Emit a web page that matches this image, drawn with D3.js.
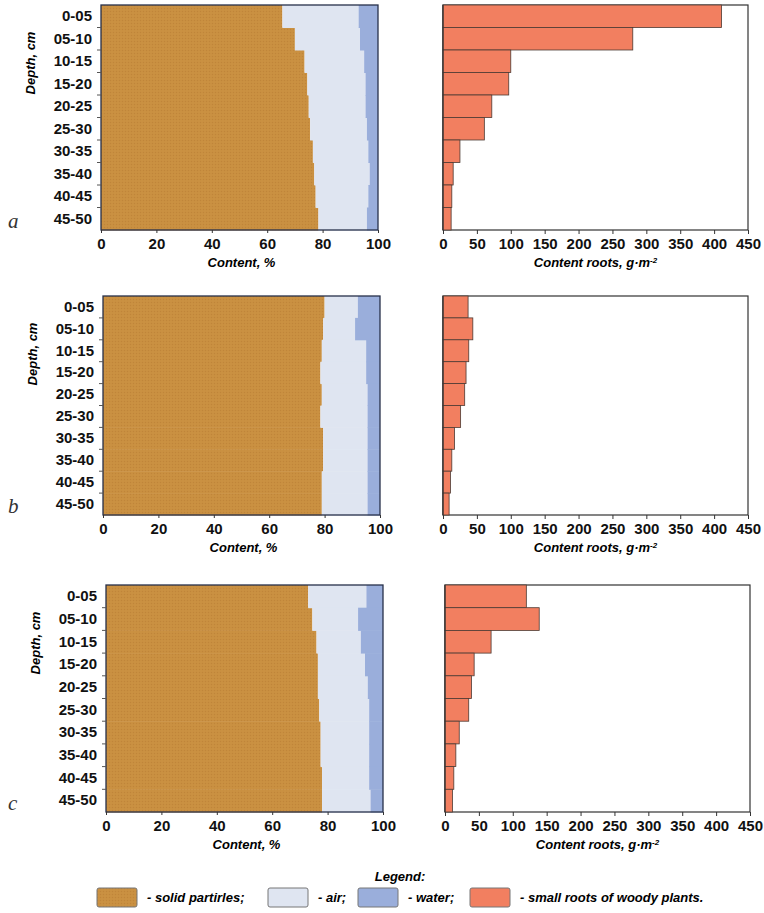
<!DOCTYPE html>
<html>
<head>
<meta charset="utf-8">
<script src="https://cdn.jsdelivr.net/npm/d3@7"></script>
<style>
  body { margin: 0; background: #fff; }
  .tick text { font-family: "Liberation Sans", Arial, sans-serif; font-weight: bold; }
  .axisTitle { font-family: "Liberation Sans Narrow", "Liberation Sans", Arial, sans-serif; font-weight: bold; font-style: italic; }
</style>
</head>
<body>
<div id="chart"></div>
<script>
var svgWidth = 764;
var svgHeight = 913;

// depth layers
var depths = ["0-05", "05-10", "10-15", "15-20", "20-25", "25-30", "30-35", "35-40", "40-45", "45-50"];

// soil composition, % (solid + air + water = 100)
var solidA = [65.5, 70, 73.5, 74.5, 75, 75.5, 76.5, 77, 77.5, 78.5];
var airA   = [27.5, 23.5, 21.5, 21, 20.5, 20.5, 20, 20, 19, 17.5];
var waterA = [7, 6.5, 5, 4.5, 4.5, 4, 3.5, 3, 3.5, 4];

var solidB = [80, 79.5, 79, 78.5, 79, 78.5, 79.5, 79.5, 79, 79];
var airB   = [12, 11.5, 16, 16.5, 16.5, 17, 16, 16, 16.5, 16.5];
var waterB = [8, 9, 5, 5, 4.5, 4.5, 4.5, 4.5, 4.5, 4.5];

var solidC = [73, 74.5, 76, 76.5, 76.5, 77, 77.5, 77.5, 78, 78];
var airC   = [21, 16.5, 16, 17, 18, 18, 17.5, 17.5, 17, 17.5];
var waterC = [6, 9, 8, 6.5, 5.5, 5, 5, 5, 5, 4.5];

// small roots of woody plants, g/m2
var rootsA = [411, 280, 100, 97, 72, 61, 25, 15, 13, 12];
var rootsB = [37, 44, 38, 34, 32, 26, 17, 13, 11, 9];
var rootsC = [120, 139, 68, 43, 39, 35, 21, 16, 13, 11];

var contentTicks = [0, 20, 40, 60, 80, 100];
var rootTicks = [0, 50, 100, 150, 200, 250, 300, 350, 400, 450];
var panelLetters = ["a", "b", "c"];

var legendLabels = ["solid partirles;", "air;", "water;", "small roots of woody plants."];

var colors = { solid: "#c98f40", air: "#dfe5f1", water: "#9aaedb", roots: "#f27f60" };

var svg = d3.select("#chart")
  .append("svg")
  .attr("width", svgWidth)
  .attr("height", svgHeight);

// dotted texture of the solid particles
var defs = svg.append("defs");
var pat = defs.append("pattern")
  .attr("id", "solidPat")
  .attr("patternUnits", "userSpaceOnUse")
  .attr("width", 3).attr("height", 3);
pat.append("rect").attr("width", 3).attr("height", 3).attr("fill", colors.solid);
pat.append("rect").attr("width", 1).attr("height", 1).attr("fill", "#bf853a");
pat.append("rect").attr("x", 1.5).attr("y", 1.5).attr("width", 1).attr("height", 1).attr("fill", "#d09848");

// layout of the three rows of panels
var panels = [
  { top: 5,   h: 225, lx: 101, rx: 443, solid: solidA, air: airA, water: waterA, roots: rootsA },
  { top: 296, h: 219, lx: 103, rx: 443, solid: solidB, air: airB, water: waterB, roots: rootsB },
  { top: 585, h: 227, lx: 106, rx: 445, solid: solidC, air: airC, water: waterC, roots: rootsC }
];
var lw = 277, rw = 305;

panels.forEach(function (p, pi) {
  var rows = depths.map(function (d, i) {
    return { depth: d, solid: p.solid[i], air: p.air[i], water: p.water[i], roots: p.roots[i] };
  });

  var yScale = d3.scaleBand().domain(depths).range([0, p.h]).padding(0);

  // ---- left: soil composition ----
  var g = svg.append("g").attr("transform", `translate(${p.lx}, ${p.top})`);
  var xLeft = d3.scaleLinear().domain([0, 100]).range([0, lw]);

  var series = d3.stack().keys(["solid", "air", "water"])(rows);
  g.selectAll("g.layer")
    .data(series)
    .enter()
    .append("g")
    .attr("fill", d => d.key == "solid" ? "url(#solidPat)" : colors[d.key])
    .selectAll("rect")
    .data(d => d)
    .enter()
    .append("rect")
    .attr("x", d => xLeft(d[0]))
    .attr("y", d => yScale(d.data.depth))
    .attr("width", d => xLeft(d[1]) - xLeft(d[0]))
    .attr("height", yScale.bandwidth() + 0.5);

  g.append("rect")
    .attr("width", lw).attr("height", p.h)
    .attr("fill", "none").attr("stroke", "#27304a").attr("stroke-width", 1.3);

  // depth axis
  var leftAxis = d3.axisLeft(yScale).tickSize(0).tickPadding(9);
  var ya = g.append("g").call(leftAxis);
  ya.select(".domain").remove();
  ya.selectAll("text").attr("font-size", 15).attr("fill", "#111");
  g.selectAll("line.rowtick")
    .data(depths.slice(1))
    .enter()
    .append("line")
    .attr("x1", -4).attr("x2", 0)
    .attr("y1", d => yScale(d)).attr("y2", d => yScale(d))
    .attr("stroke", "#555");

  var bottomLeft = d3.axisBottom(xLeft).tickValues(contentTicks).tickSize(3).tickPadding(5);
  var xa = g.append("g").attr("transform", `translate(0, ${p.h})`).call(bottomLeft);
  xa.select(".domain").remove();
  xa.selectAll("line").attr("stroke", "#333");
  xa.selectAll("text").attr("font-size", 15).attr("fill", "#111");

  g.append("text")
    .attr("class", "axisTitle")
    .attr("x", lw / 2 + 2).attr("y", p.h + 37)
    .attr("text-anchor", "middle")
    .attr("font-size", 13)
    .text("Content, %");

  g.append("text")
    .attr("class", "axisTitle")
    .attr("transform", `translate(${-66}, ${58}) rotate(-90)`)
    .attr("text-anchor", "middle")
    .attr("font-size", 13)
    .text("Depth, cm");

  svg.append("text")
    .attr("x", 8).attr("y", p.top + p.h - 2)
    .attr("font-family", "Liberation Serif, serif")
    .attr("font-style", "italic")
    .attr("font-size", 21)
    .attr("fill", "#333")
    .text(panelLetters[pi]);

  // ---- right: roots ----
  var gr = svg.append("g").attr("transform", `translate(${p.rx}, ${p.top})`);
  var xRight = d3.scaleLinear().domain([0, 450]).range([0, rw]);

  gr.append("rect")
    .attr("width", rw).attr("height", p.h)
    .attr("fill", "#fff").attr("stroke", "#333").attr("stroke-width", 1.2);

  gr.selectAll("rect.bar")
    .data(rows)
    .enter()
    .append("rect")
    .attr("class", "bar")
    .attr("x", 0)
    .attr("y", d => yScale(d.depth))
    .attr("width", d => xRight(d.roots))
    .attr("height", yScale.bandwidth())
    .attr("fill", colors.roots)
    .attr("stroke", "#4d3a33")
    .attr("stroke-width", 0.8);

  gr.append("line")
    .attr("x1", 0).attr("x2", 0).attr("y1", 0).attr("y2", p.h)
    .attr("stroke", "#333").attr("stroke-width", 1.2);

  var bottomRight = d3.axisBottom(xRight).tickValues(rootTicks).tickSize(4).tickPadding(4);
  var xr = gr.append("g").attr("transform", `translate(0, ${p.h})`).call(bottomRight);
  xr.select(".domain").remove();
  xr.selectAll("line").attr("stroke", "#333");
  xr.selectAll("text").attr("font-size", 15).attr("fill", "#111");

  var t = gr.append("text")
    .attr("class", "axisTitle")
    .attr("x", rw / 2).attr("y", p.h + 37)
    .attr("text-anchor", "middle")
    .attr("font-size", 13);
  t.append("tspan").text("Content roots, g·m");
  t.append("tspan").attr("dy", -4).attr("font-size", 8).text("-2");
});

// ---- legend ----
svg.append("text")
  .attr("class", "axisTitle")
  .attr("x", 400).attr("y", 881)
  .attr("text-anchor", "middle")
  .attr("font-size", 13)
  .text("Legend:");

var legendKeys = ["solid", "air", "water", "roots"];
var legendX = [97, 268, 358, 470];
var lg = svg.selectAll("g.legend")
  .data(legendKeys)
  .enter()
  .append("g")
  .attr("transform", (d, i) => `translate(${legendX[i]}, 888)`);

lg.append("rect")
  .attr("width", 40).attr("height", 19)
  .attr("rx", 2)
  .attr("fill", d => d == "solid" ? "url(#solidPat)" : colors[d])
  .attr("stroke", "#777").attr("stroke-width", 1);

lg.append("text")
  .attr("class", "axisTitle")
  .attr("x", 50).attr("y", 14)
  .attr("font-size", 13)
  .text((d, i) => "-  " + legendLabels[i]);
</script>
</body>
</html>
